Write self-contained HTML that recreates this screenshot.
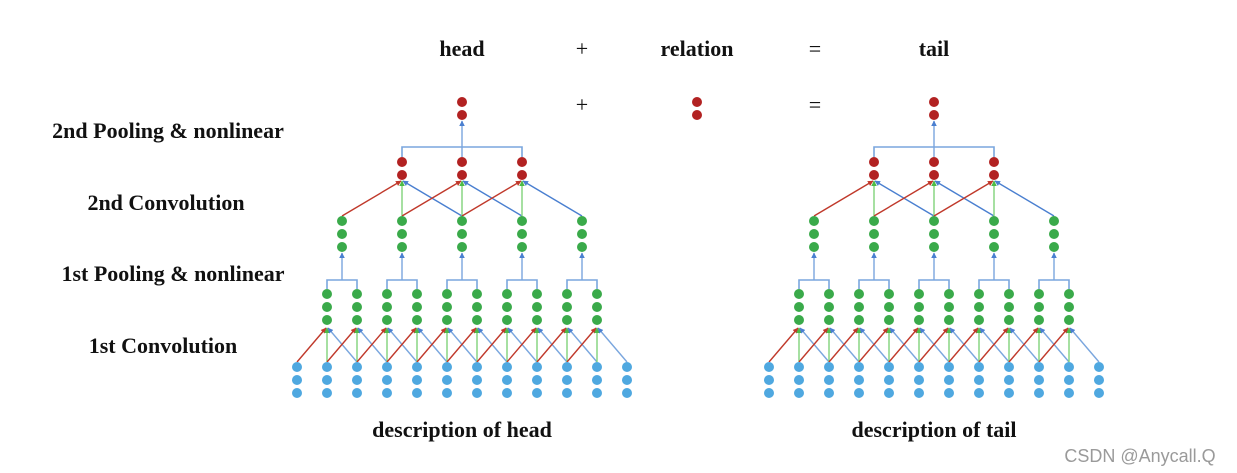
<!DOCTYPE html>
<html><head><meta charset="utf-8"><style>
body{margin:0;background:#fff;}
svg{display:block}
.t{font-family:"Liberation Serif",serif;font-weight:bold;font-size:22px;fill:#111}
</style></head><body>
<svg id="s" width="1237" height="473" viewBox="0 0 1237 473" xmlns="http://www.w3.org/2000/svg">
<defs>
<marker id="mr" viewBox="0 0 10 10" refX="9" refY="5" markerWidth="4" markerHeight="4" orient="auto"><path d="M0,0L10,5L0,10z" fill="#c0392b"/></marker>
<marker id="mg" viewBox="0 0 10 10" refX="9" refY="5" markerWidth="4" markerHeight="4" orient="auto"><path d="M0,0L10,5L0,10z" fill="#4cbb47"/></marker>
<marker id="mb" viewBox="0 0 10 10" refX="9" refY="5" markerWidth="4" markerHeight="4" orient="auto"><path d="M0,0L10,5L0,10z" fill="#4a7fd0"/></marker>
</defs>
<text class="t" x="462" y="56" text-anchor="middle">head</text>
<text class="t" x="582" y="56" text-anchor="middle" style="font-weight:normal">+</text>
<text class="t" x="697" y="56" text-anchor="middle">relation</text>
<text class="t" x="815" y="56" text-anchor="middle" style="font-weight:normal">=</text>
<text class="t" x="934" y="56" text-anchor="middle">tail</text>
<text class="t" x="582" y="112" text-anchor="middle" style="font-weight:normal">+</text>
<text class="t" x="815" y="112" text-anchor="middle" style="font-weight:normal">=</text>
<text class="t" x="168" y="138" text-anchor="middle">2nd Pooling &amp; nonlinear</text>
<text class="t" x="166" y="210" text-anchor="middle">2nd Convolution</text>
<text class="t" x="173" y="281" text-anchor="middle">1st Pooling &amp; nonlinear</text>
<text class="t" x="163" y="353" text-anchor="middle">1st Convolution</text>
<text class="t" x="462" y="437" text-anchor="middle">description of head</text>
<text class="t" x="934" y="437" text-anchor="middle">description of tail</text>
<text x="1140" y="462" text-anchor="middle" style="font-family:'Liberation Sans',sans-serif;font-size:18px;fill:#9a9a9a">CSDN @Anycall.Q</text>
<g id="g"></g>
</svg>
<script>
var g=document.getElementById('g'),h='';
function c(x,y,f){h+='<circle cx="'+x+'" cy="'+y+'" r="5" fill="'+f+'"/>';}
function l(x1,y1,x2,y2,col,m){h+='<line x1="'+x1+'" y1="'+y1+'" x2="'+x2+'" y2="'+y2+'" stroke="'+col+'" stroke-width="1.4"'+(m?' marker-end="url(#'+m+')"':'')+'/>';}
var R='#b22222',G='#3aaa4a',B='#4fa8e0',LR='#c0392b',LG='#7fd37a',LB='#4a7fd0',LB2='#7aa6de';
function net(o){
 for(var j=0;j<10;j++){var x=o+327+30*j;
  l(x-30,362,x-1,328,LR,'mr');l(x,362,x,328,LG,'mg');l(x+30,362,x+1,328,LB2,'mb');}
 for(var k=0;k<5;k++){var a=o+327+60*k,b=a+30,m=a+15;
  h+='<polyline points="'+a+',289 '+a+',280 '+b+',280 '+b+',289" fill="none" stroke="'+LB2+'" stroke-width="1.6"/>';
  l(m,280,m,253,LB2,'mb');}
 for(var r=0;r<3;r++){var x=o+402+60*r;
  l(x-60,216,x-1,181,LR,'mr');l(x,216,x,181,LG,'mg');l(x+60,216,x+1,181,LB,'mb');}
 h+='<polyline points="'+(o+402)+',157 '+(o+402)+',147 '+(o+522)+',147 '+(o+522)+',157" fill="none" stroke="'+LB2+'" stroke-width="1.6"/>';
 l(o+462,157,o+462,121,LB2,'mb');
 for(var i=0;i<12;i++){var x=o+297+30*i;c(x,367,B);c(x,380,B);c(x,393,B);}
 for(var k=0;k<5;k++){for(var q=0;q<2;q++){var x=o+327+60*k+30*q;c(x,294,G);c(x,307,G);c(x,320,G);}
  var m=o+342+60*k;c(m,221,G);c(m,234,G);c(m,247,G);}
 for(var r=0;r<3;r++){var x=o+402+60*r;c(x,162,R);c(x,175,R);}
 c(o+462,102,R);c(o+462,115,R);
}
net(0);net(472);
c(697,102,R);c(697,115,R);
g.innerHTML=h;
</script>
</body></html>
